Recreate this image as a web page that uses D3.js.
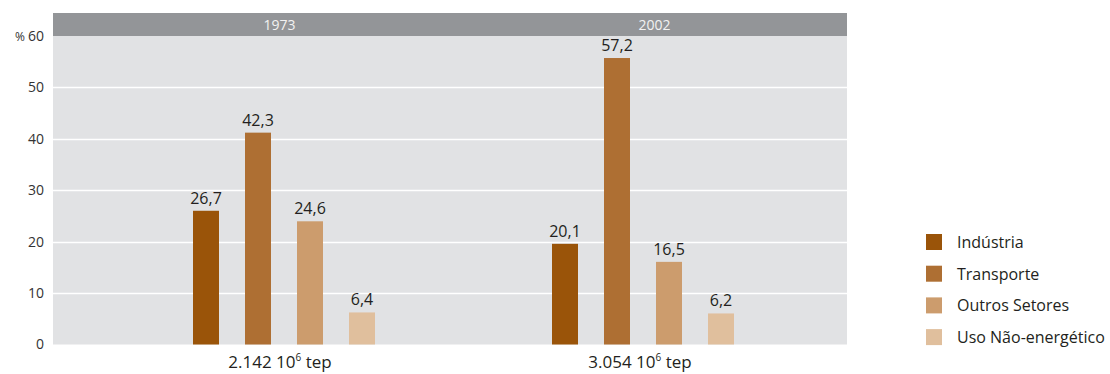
<!DOCTYPE html>
<html><head><meta charset="utf-8">
<script src="https://cdn.jsdelivr.net/npm/d3@7"></script>
<style>
body{margin:0;background:#fff;}
text{font-family:"Open Sans","Noto Sans",sans-serif;}
</style></head>
<body><svg id="c" width="1110" height="374"></svg>
<script>
const years = ["1973", "2002"];
const totals = ["2.142", "3.054"];
const sectors = ["Indústria", "Transporte", "Outros Setores", "Uso Não-energético"];
const values1973 = [26.7, 42.3, 24.6, 6.4];
const values2002 = [20.1, 57.2, 16.5, 6.2];
const yTicks = [0, 10, 20, 30, 40, 50, 60];
const colors = ["#9a5409", "#ae6f33", "#cc9c6d", "#e0bf9d"];

const series = [values1973, values2002];
const svg = d3.select("#c");
const plotL = 53, plotR = 847, plotT = 36, plotB = 344.5, headT = 13;

const y = d3.scaleLinear().domain([0, 60]).range([plotB, plotT]);
// bars in the original are drawn slightly shorter than the grid implies
const yBar = d3.scaleLinear().domain([0, 60]).range([plotB, plotB - 300.5]);
const panel = d3.scaleBand().domain(years).range([plotL, plotR]);
const groupCenter = d3.scaleOrdinal().domain(years).range([284, 643]);
const xIn = d3.scaleBand().domain(sectors).range([-104, 104]).paddingInner(0.5).paddingOuter(0.25);
const color = d3.scaleOrdinal().domain(sectors).range(colors);

// background
svg.append("rect").attr("x", plotL).attr("y", plotT).attr("width", plotR - plotL).attr("height", plotB - plotT).attr("fill", "#e1e2e4");
svg.append("rect").attr("x", plotL).attr("y", headT).attr("width", plotR - plotL).attr("height", plotT - headT).attr("fill", "#939598");

// gridlines
svg.append("g").selectAll("line").data(yTicks.filter(d => d > 0 && d < 60)).join("line")
  .attr("x1", plotL).attr("x2", plotR).attr("y1", d => Math.round(y(d)) + 0.5).attr("y2", d => Math.round(y(d)) + 0.5)
  .attr("stroke", "#fff").attr("stroke-width", 1.5);

// y axis
const yAxis = d3.axisLeft(y).tickValues(yTicks).tickSize(0).tickPadding(9)
  .tickFormat(d => d);
const ga = svg.append("g").attr("transform", `translate(${plotL},0)`).call(yAxis);
ga.select(".domain").remove();
ga.selectAll("text").attr("font-size", 14).attr("fill", "#333");
ga.selectAll(".tick").filter(d => d === 60).select("text").text(null)
  .call(t => { t.append("tspan").attr("font-size", 12).text("% "); t.append("tspan").text("60"); });

// header labels
const headerOffsets = {"1973": 28, "2002": 6};
svg.append("g").selectAll("text").data(years).join("text")
  .attr("x", d => panel(d) + panel.bandwidth() / 2 + headerOffsets[d])
  .attr("y", 30).attr("text-anchor", "middle").attr("font-size", 14).attr("fill", "#f2f2f2")
  .text(d => d);

// bars
years.forEach((yr, i) => {
  const g = svg.append("g").attr("transform", `translate(${groupCenter(yr)},0)`);
  const data = sectors.map((s, j) => ({s, v: series[i][j]}));
  g.selectAll("rect").data(data).join("rect")
    .attr("x", d => xIn(d.s)).attr("width", xIn.bandwidth())
    .attr("y", d => yBar(d.v)).attr("height", d => yBar(0) - yBar(d.v))
    .attr("fill", d => color(d.s));
  g.selectAll("text.v").data(data).join("text").attr("class", "v")
    .attr("x", d => xIn(d.s) + xIn.bandwidth() / 2).attr("y", d => yBar(d.v) - 7)
    .attr("text-anchor", "middle").attr("font-size", 16).attr("fill", "#231f20")
    .text(d => d3.format(".1f")(d.v).replace(".", ","));
  const t = svg.append("text").attr("x", groupCenter(yr) - 4 + (i ? 1 : 0)).attr("y", 368)
    .attr("text-anchor", "middle").attr("font-size", 17).attr("fill", "#231f20");
  t.append("tspan").text(totals[i] + " 10");
  t.append("tspan").attr("font-size", 10).attr("dy", -7).text("6");
  t.append("tspan").attr("dy", 7).text(" tep");
});

// legend
const lg = svg.append("g").attr("transform", "translate(926,234)");
const li = lg.selectAll("g").data(sectors).join("g").attr("transform", (d, i) => `translate(0,${i * 31.7})`);
li.append("rect").attr("width", 16).attr("height", 16).attr("fill", d => color(d));
li.append("text").attr("x", 31).attr("y", 14).attr("font-size", 16).attr("fill", "#231f20").text(d => d);
</script></body></html>
